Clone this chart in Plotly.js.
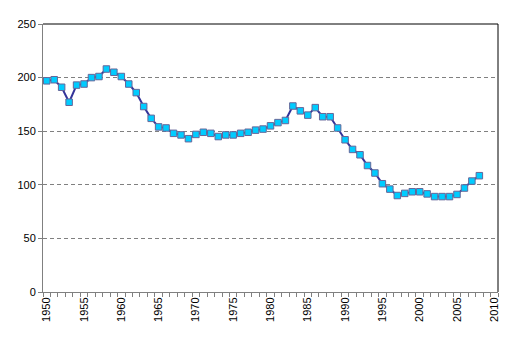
<!DOCTYPE html>
<html><head><meta charset="utf-8">
<script src="https://cdn.plot.ly/plotly-3.0.1.min.js"></script>
<style>html,body{margin:0;padding:0;background:#fff}#chart{width:513px;height:341px}</style>
</head><body><div id="chart"></div>
<script>
const years = [1950,1951,1952,1953,1954,1955,1956,1957,1958,1959,1960,1961,1962,1963,1964,1965,1966,1967,1968,1969,1970,1971,1972,1973,1974,1975,1976,1977,1978,1979,1980,1981,1982,1983,1984,1985,1986,1987,1988,1989,1990,1991,1992,1993,1994,1995,1996,1997,1998,1999,2000,2001,2002,2003,2004,2005,2006,2007,2008];
const values = [197,198,191,177,193,194,200,201,208,205,201,194,186,173,162,154,153,148,146.5,143,147,149,148,145,146.5,146.5,148,149,151,152,155,158,160,173.5,169,165,172,163.5,163.5,153,142,133,128,118,111,101,96,90,92,93.5,93.5,91.5,89,89,89,91,97,103.5,108.5];
const tickYears = [1950,1955,1960,1965,1970,1975,1980,1985,1990,1995,2000,2005,2010];

Plotly.newPlot('chart', [{
  x: years, y: values, type: 'scatter', mode: 'lines+markers',
  line: {color: '#333399', width: 2},
  marker: {symbol: 'square', size: 6.5, color: '#00CCFF', line: {color: '#666699', width: 1}},
  hoverinfo: 'none'
}], {
  width: 513, height: 341,
  margin: {l: 43, r: 15, t: 24, b: 49},
  paper_bgcolor: '#fff', plot_bgcolor: '#fff',
  showlegend: false,
  font: {family: 'Liberation Sans, Arial, sans-serif', size: 11, color: '#000'},
  xaxis: {
    range: [1949.5, 2010.5], tickmode: 'array', tickvals: tickYears, ticktext: tickYears.map(String),
    tickangle: -90, ticks: '', showgrid: false, zeroline: false,
    showline: true, linecolor: '#808080', linewidth: 1,
    minor: {tick0: 1949.5, dtick: 1, ticks: 'outside', ticklen: 4, tickcolor: '#808080', showgrid: false},
    tickfont: {size: 11}
  },
  yaxis: {
    range: [0, 250], dtick: 50, tick0: 0, ticks: 'outside', ticklen: 4, tickcolor: '#808080',
    showgrid: true, gridcolor: '#808080', griddash: '4px,3px', gridwidth: 1,
    zeroline: false, showline: true, linecolor: '#808080', linewidth: 1,
    tickfont: {size: 11}
  },
  shapes: [
    {type: 'line', xref: 'paper', yref: 'paper', x0: 0, x1: 1, y0: 1, y1: 1, line: {color: '#000', width: 1}},
    {type: 'line', xref: 'paper', yref: 'paper', x0: 1, x1: 1, y0: 0, y1: 1, line: {color: '#000', width: 1}}
  ]
}, {staticPlot: true});
</script></body></html>
